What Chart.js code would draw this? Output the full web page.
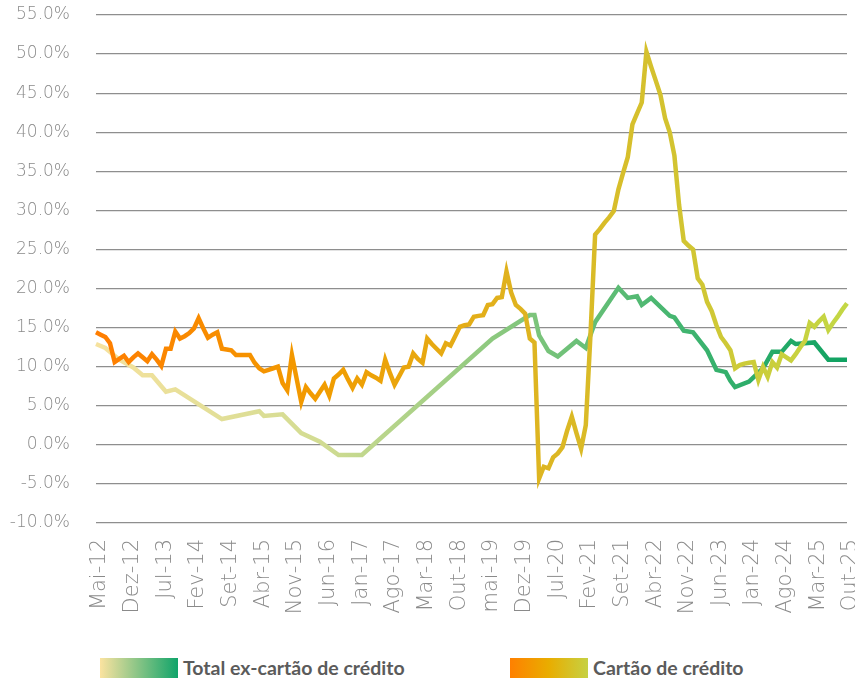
<!DOCTYPE html>
<html>
<head>
<meta charset="utf-8">
<script src="https://cdn.jsdelivr.net/npm/chart.js@4"></script>
<style>
    html, body { margin: 0; padding: 0; background: #fff; }
    #wrap { position: relative; width: 855px; height: 684px; }
    #chartBox { position: absolute; left: 0; top: 0; width: 855px; height: 630px; }
    .legend { position: absolute; top: 656px; left: 0; width: 855px; height: 24px;
              font-family: Lato, "Open Sans", sans-serif; font-weight: bold; font-size: 19.5px; color: #5b5b5b; }
    .item { position: absolute; top: 0; display: flex; align-items: center; }
    .swatch { width: 78px; height: 20px; margin-right: 5px; }
</style>
</head>
<body>
<div id="wrap">
    <div id="chartBox"><canvas id="creditChart"></canvas></div>
    <div class="legend">
        <div class="item" style="left:100px"><span class="swatch" style="background:linear-gradient(to right,#fbe3a0,#10a46a)"></span>Total ex-cartão de crédito</div>
        <div class="item" style="left:510px"><span class="swatch" style="background:linear-gradient(to right,#ff8000,#e9ad00,#c6d143)"></span>Cartão de crédito</div>
    </div>
</div>
<script>
// monthly categories, Mai-12 .. Out-25
const monthNames = ['Jan', 'Fev', 'Mar', 'Abr', 'Mai', 'Jun', 'Jul', 'Ago', 'Set', 'Out', 'Nov', 'Dez'];
const startYear = 2012, startMonth = 4, monthCount = 162;

// labels shown on the axis (every 7 months)
const tickLabels = ['Mai-12', 'Dez-12', 'Jul-13', 'Fev-14', 'Set-14', 'Abr-15', 'Nov-15', 'Jun-16',
    'Jan-17', 'Ago-17', 'Mar-18', 'Out-18', 'mai-19', 'Dez-19', 'Jul-20', 'Fev-21', 'Set-21',
    'Abr-22', 'Nov-22', 'Jun-23', 'Jan-24', 'Ago-24', 'Mar-25', 'Out-25'];

// Cartão de crédito, % a.a.
const cartaoCredito = [
    14.4, 14.1, 13.8, 13.0, 10.6, 11.0, 11.4, 10.6, 11.2, 11.7, 11.2, 10.7,
    11.6, 10.9, 10.1, 12.3, 12.3, 14.5, 13.6, 13.9, 14.3, 14.9, 16.2, 14.9,
    13.7, 14.1, 14.4, 12.3, 12.2, 12.1, 11.5, 11.5, 11.5, 11.5, 10.5, 9.8,
    9.4, 9.6, 9.8, 10.0, 7.9, 7.0, 11.5, 8.5, 5.5, 7.4, 6.6, 5.9,
    6.8, 7.7, 6.3, 8.5, 9.0, 9.6, 8.4, 7.3, 8.5, 7.7, 9.3, 8.9,
    8.6, 8.2, 10.9, 9.2, 7.7, 8.8, 9.9, 10.0, 11.7, 11.0, 10.5, 13.6,
    12.9, 12.3, 11.7, 13.0, 12.7, 13.9, 15.1, 15.3, 15.4, 16.4, 16.5, 16.6,
    17.9, 18.0, 18.8, 18.9, 22.2, 19.5, 17.9, 17.4, 16.8, 13.6, 13.1, -4.3,
    -2.8, -3.0, -1.6, -1.1, -0.3, 1.8, 3.6, 1.5, -0.5, 2.5, 14.0, 26.9,
    27.6, 28.4, 29.1, 29.9, 32.7, 34.8, 36.8, 41.0, 42.4, 43.8, 50.3, 48.4,
    46.6, 44.8, 41.8, 40.0, 37.0, 30.7, 26.1, 25.5, 25.0, 21.3, 20.5, 18.3,
    17.1, 15.3, 13.8, 13.0, 12.1, 9.8, 10.2, 10.4, 10.5, 10.6, 8.3, 10.0,
    8.7, 10.6, 9.9, 11.6, 11.2, 10.8, 11.6, 12.5, 13.3, 15.6, 15.1, 15.8,
    16.4, 14.7, 15.6, 16.4, 17.3, 18.1
];

// Total ex-cartão de crédito, % a.a. (null = no observation, line spans the gap)
const totalExCartao = [
    12.9, null, 12.4, null, null, 10.9, null, null, 9.9, null, 8.9, null,
    8.9, null, null, 6.8, null, 7.1, null, null, null, null, null, null,
    null, null, null, 3.3, null, null, null, null, null, null, null, 4.3,
    3.7, null, null, null, 3.9, null, null, null, 1.5, null, null, null,
    0.4, null, null, null, -1.3, null, null, null, null, -1.3, null, null,
    null, null, null, null, null, null, null, null, null, null, null, null,
    null, null, null, null, null, null, null, null, null, null, null, null,
    null, 13.6, null, null, null, null, null, null, null, 16.6, 16.6, 14.0,
    null, 12.0, null, 11.3, null, null, null, 13.3, null, 12.4, null, 15.7,
    null, null, null, null, 20.1, null, 18.8, null, 19.0, 17.9, null, 18.8,
    null, null, null, 16.5, 16.3, null, 14.6, null, 14.4, null, null, 12.1,
    null, 9.6, null, 9.3, 8.2, 7.4, null, null, 8.1, null, null, 9.8,
    null, 11.9, null, 11.9, null, 13.3, 12.9, null, null, null, 13.1, null,
    null, 10.9, null, null, null, 10.9
];

const categories = [];
for (let i = 0; i < monthCount; i++) {
    const m = (startMonth + i) % 12;
    const y = startYear + Math.floor((startMonth + i) / 12);
    categories.push(monthNames[m] + '-' + String(y).slice(2));
}

// horizontal colour ramps along the lines
const totalStops = [[0, '#f6e29e'], [0.3, '#d2dc92'], [0.55, '#86c77d'], [0.8, '#3cb36e'], [1, '#10a262']];
const cartaoStops = [[0, '#ff7d00'], [0.3, '#f19c00'], [0.55, '#e0b21e'], [0.8, '#d1c633'], [1, '#c3d745']];

function rampColor(stops) {
    let cache = null, cacheKey = '';
    return function(context) {
        const chart = context.chart;
        const area = chart.chartArea;
        if (!area) return stops[0][1];
        const key = area.left + ':' + area.right;
        if (!cache || key !== cacheKey) {
            cache = chart.ctx.createLinearGradient(area.left, 0, area.right, 0);
            stops.forEach(s => cache.addColorStop(s[0], s[1]));
            cacheKey = key;
        }
        return cache;
    };
}

const tickFamily = 'DejaVu Sans';

new Chart(document.getElementById('creditChart'), {
    type: 'line',
    data: {
        labels: categories,
        datasets: [
            {
                label: 'Cartão de crédito',
                data: cartaoCredito,
                borderColor: rampColor(cartaoStops),
                borderWidth: 4.5,
                pointRadius: 0,
                tension: 0,
                order: 0
            },
            {
                label: 'Total ex-cartão de crédito',
                data: totalExCartao,
                borderColor: rampColor(totalStops),
                borderWidth: 4.5,
                pointRadius: 0,
                tension: 0,
                spanGaps: true,
                order: 1
            }
        ]
    },
    options: {
        responsive: true,
        maintainAspectRatio: false,
        animation: false,
        layout: { padding: { top: 15, right: 8, left: 0, bottom: 0 } },
        plugins: {
            legend: { display: false },
            tooltip: { enabled: false }
        },
        scales: {
            x: {
                grid: { display: false },
                border: { display: false },
                ticks: {
                    autoSkip: false,
                    maxRotation: 90,
                    minRotation: 90,
                    padding: 8,
                    labelOffset: 4,
                    color: '#8a8a8a',
                    font: { family: tickFamily, size: 21, weight: '200' },
                    callback: function(value, index) {
                        return index % 7 === 0 ? tickLabels[index / 7] : '';
                    }
                },
                afterFit: function(scale) {
                    scale.height = 107;
                    scale.paddingLeft = 0;
                    scale.paddingRight = 0;
                }
            },
            y: {
                min: -10,
                max: 55,
                grid: { color: '#8e8e8e', lineWidth: 1.3, drawTicks: false },
                border: { display: false },
                ticks: {
                    stepSize: 5,
                    padding: 26,
                    color: '#8a8a8a',
                    font: { family: tickFamily, size: 17, weight: '200' },
                    callback: function(value) { return value.toFixed(1) + '%'; }
                },
                afterFit: function(scale) {
                    scale.width = 96;
                    scale.paddingTop = 0;
                    scale.paddingBottom = 0;
                }
            }
        }
    }
});
</script>
</body>
</html>
